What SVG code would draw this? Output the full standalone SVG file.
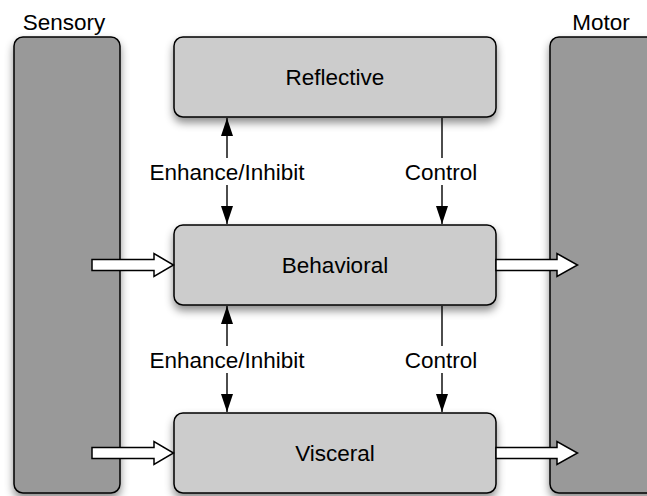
<svg xmlns="http://www.w3.org/2000/svg" width="647" height="496" viewBox="0 0 647 496">
<defs>
<filter id="sh" x="-20%" y="-20%" width="140%" height="150%">
<feDropShadow dx="0" dy="5" stdDeviation="4" flood-color="#000" flood-opacity="0.45"/>
</filter>
<marker id="ah" viewBox="0 0 18 12" refX="18" refY="6" markerWidth="18" markerHeight="12" markerUnits="userSpaceOnUse" orient="auto">
<path d="M0,0 L18,6 L0,12 z" fill="#000"/>
</marker>
</defs>
<style>
text{font-family:"Liberation Sans",Arial,sans-serif;font-size:22.5px;fill:#000;text-anchor:middle}
.side{fill:#999;stroke:#000;stroke-width:1.5}
.box{fill:#ccc;stroke:#000;stroke-width:1.5}
.ln{stroke:#000;stroke-width:1.4;fill:none}
.hol{fill:#fff;stroke:#000;stroke-width:1.5;stroke-linejoin:miter}
</style>
<rect width="647" height="496" fill="#fff"/>
<g id="sensory">
<rect class="side" x="14" y="37" width="106" height="456" rx="9" filter="url(#sh)"/>
<text x="64" y="30">Sensory</text>
</g>
<g id="motor">
<rect class="side" x="550" y="37" width="110" height="456" rx="9" filter="url(#sh)"/>
<text x="601" y="30">Motor</text>
</g>
<g id="reflective">
<rect class="box" x="174" y="37" width="322" height="80" rx="9" filter="url(#sh)"/>
<text x="335" y="85">Reflective</text>
</g>
<g id="behavioral">
<rect class="box" x="174" y="225" width="322" height="80" rx="9" filter="url(#sh)"/>
<text x="335" y="273">Behavioral</text>
</g>
<g id="visceral">
<rect class="box" x="174" y="413" width="322" height="80" rx="9" filter="url(#sh)"/>
<text x="335" y="461">Visceral</text>
</g>
<g id="connectors">
<line class="ln" x1="227" y1="158" x2="227" y2="118" marker-end="url(#ah)"/>
<line class="ln" x1="227" y1="185" x2="227" y2="224" marker-end="url(#ah)"/>
<line class="ln" x1="442" y1="118" x2="442" y2="158"/>
<line class="ln" x1="442" y1="185" x2="442" y2="224" marker-end="url(#ah)"/>
<text x="227" y="180">Enhance/Inhibit</text>
<text x="441" y="180">Control</text>
<line class="ln" x1="227" y1="346" x2="227" y2="306" marker-end="url(#ah)"/>
<line class="ln" x1="227" y1="373" x2="227" y2="412" marker-end="url(#ah)"/>
<line class="ln" x1="442" y1="306" x2="442" y2="346"/>
<line class="ln" x1="442" y1="373" x2="442" y2="412" marker-end="url(#ah)"/>
<text x="227" y="368">Enhance/Inhibit</text>
<text x="441" y="368">Control</text>
<path class="hol" d="M92,259.5 L154,259.5 L154,253.5 L173.5,265 L154,276.5 L154,270.5 L92,270.5 Z"/>
<path class="hol" d="M496,259.5 L557,259.5 L557,253.5 L577.5,265 L557,276.5 L557,270.5 L496,270.5 Z"/>
<path class="hol" d="M92,447.5 L154,447.5 L154,441.5 L173.5,453 L154,464.5 L154,458.5 L92,458.5 Z"/>
<path class="hol" d="M496,447.5 L557,447.5 L557,441.5 L577.5,453 L557,464.5 L557,458.5 L496,458.5 Z"/>
</g>
</svg>
